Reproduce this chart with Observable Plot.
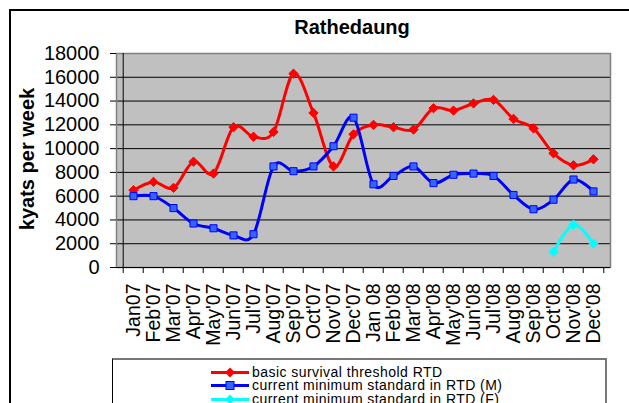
<!DOCTYPE html>
<html>
<head>
<meta charset="utf-8">
<script src="https://cdn.jsdelivr.net/npm/d3@7"></script>
<script src="https://cdn.jsdelivr.net/npm/@observablehq/plot@0.6"></script>
<style>
  html, body { margin: 0; padding: 0; background: #fff; overflow: hidden; width: 629px; height: 403px; }
  body { position: relative; font-family: "Liberation Sans", Arial, sans-serif; color: #000; }
  #frame { position: absolute; left: 9px; top: 9px; width: 700px; height: 500px; border: 2px solid #000; box-sizing: border-box; }
  #title { position: absolute; left: 0; top: 17px; width: 704px; text-align: center; font-weight: bold; font-size: 20px; line-height: 20px; }
  #ylabel { position: absolute; left: -123px; top: 149px; width: 300px; height: 20px; line-height: 20px; text-align: center; font-weight: bold; font-size: 20px; transform: rotate(-90deg); transform-origin: 150px 10px; white-space: nowrap; }
  #chart { position: absolute; left: 0; top: 40px; }
  #legend { position: absolute; left: 112px; top: 358px; width: 495px; height: 60px; background: #fff; border-left: 1px solid #000; border-top: 2px solid #777; border-right: 2px solid #777; box-sizing: border-box; }
  .row { position: absolute; left: 98px; height: 13px; line-height: 13px; font-size: 14px; letter-spacing: 0.45px; white-space: nowrap; }
  .row svg { vertical-align: top; margin-right: 3px; }
</style>
</head>
<body>
<div id="frame"></div>
<div id="title">Rathedaung</div>
<div id="ylabel">kyats per week</div>
<div id="chart"></div>
<div id="legend"></div>
<script>
const months = ["Jan07","Feb'07","Mar'07","Apr'07","May'07","Jun'07","Jul'07","Aug'07","Sep'07","Oct'07","Nov'07","Dec'07",
                "Jan 08","Feb'08","Mar'08","Apr'08","May'08","Jun'08","Jul'08","Aug'08","Sep'08","Oct'08","Nov'08","Dec'08"];
const basicThreshold = [6500,7200,6700,8900,7900,11800,11000,11400,16300,13000,8500,11200,
                        12000,11800,11600,13400,13200,13800,14100,12500,11700,9600,8600,9100];
const minStandardM = [6000,6000,5000,3700,3300,2700,2800,8500,8100,8500,10200,12600,
                      7000,7700,8500,7100,7800,7900,7700,6100,4900,5700,7400,6400];
const minStandardF = [null,null,null,null,null,null,null,null,null,null,null,null,
                      null,null,null,null,null,null,null,null,null,1300,3600,2000];
const yTicks = [0,2000,4000,6000,8000,10000,12000,14000,16000,18000];
const seriesNames = ["basic survival threshold RTD","current minimum standard in RTD (M)","current minimum standard in RTD (F)"];

const W = 629, H = 318, mL = 116, mR = 19, mT = 13, mB = 91;
const step = (W - mL - mR) / months.length;

const rows = (vals) => months.map((m, i) => ({m, v: vals[i]}));
const red = rows(basicThreshold), blue = rows(minStandardM), cyan = rows(minStandardF);

const chart = Plot.plot({
  width: W, height: H,
  marginLeft: mL, marginRight: mR, marginTop: mT, marginBottom: mB,
  style: {fontFamily: "'Liberation Sans', Arial, sans-serif", color: "#000", background: "transparent"},
  x: {type: "point", domain: months, padding: 0.5},
  y: {domain: [0, 18000]},
  marks: [
    Plot.frame({fill: "#c0c0c0"}),
    Plot.ruleY(yTicks.filter(v => v > 0 && v < 18000), {stroke: "#000", strokeWidth: 1}),
    Plot.frame({stroke: "#808080", strokeWidth: 1.5}),
    Plot.ruleY([0], {stroke: "#000", strokeWidth: 1}),
    Plot.ruleX([months[0]], {dx: -step / 2, stroke: "#000", strokeWidth: 1}),
    Plot.ruleX(months, {x: d => d, y1: 0, y2: 0, insetBottom: -6, dx: -step / 2, stroke: "#000"}),
    Plot.ruleX([months[months.length - 1]], {x: d => d, y1: 0, y2: 0, insetBottom: -6, dx: step / 2, stroke: "#000"}),
    Plot.line(red, {x: "m", y: "v", stroke: "#ff0000", strokeWidth: 3, curve: "cardinal"}),
    Plot.line(blue, {x: "m", y: "v", stroke: "#0000ff", strokeWidth: 3, curve: "cardinal"}),
    Plot.line(cyan, {x: "m", y: "v", stroke: "#00ffff", strokeWidth: 3, curve: "cardinal"}),
    Plot.dot(red, {x: "m", y: "v", symbol: "diamond2", r: 4.2, fill: "#ff0000", stroke: "#ff0000", strokeWidth: 1}),
    Plot.dot(blue, {x: "m", y: "v", symbol: "square", r: 4, fill: "#3366ff", stroke: "#0000ff", strokeWidth: 1}),
    Plot.dot(cyan, {x: "m", y: "v", symbol: "diamond2", r: 4.2, fill: "#00ffff", stroke: "#00ffff", strokeWidth: 1}),
    Plot.axisY({ticks: yTicks, tickSize: 6, tickPadding: 11, fontSize: 20, tickFormat: d => String(d), label: null, stroke: "#000"}),
    Plot.axisX({tickRotate: -90, tickSize: 0, tickPadding: 16, fontSize: 19.5, label: null})
  ]
});
document.getElementById("chart").appendChild(chart);

// legend
const legend = document.getElementById("legend");
const legendStyles = [
  {stroke: "#ff0000", marker: "diamond", fill: "#ff0000"},
  {stroke: "#0000ff", marker: "square", fill: "#3366ff"},
  {stroke: "#00ffff", marker: "diamond", fill: "#00ffff"}
];
seriesNames.forEach((name, i) => {
  const st = legendStyles[i];
  const row = document.createElement("div");
  row.className = "row";
  row.style.top = (5.5 + i * 13.5) + "px";
  const marker = st.marker === "square"
    ? `<rect x="15" y="2.5" width="8" height="8" fill="${st.fill}" stroke="${st.stroke}" stroke-width="1"/>`
    : `<path d="M19,1.5 L24,6.5 L19,11.5 L14,6.5 Z" fill="${st.fill}"/>`;
  row.innerHTML = `<svg width="38" height="13"><line x1="0" x2="38" y1="6.5" y2="6.5" stroke="${st.stroke}" stroke-width="3"/>${marker}</svg>${name}`;
  legend.appendChild(row);
});
</script>
</body>
</html>
